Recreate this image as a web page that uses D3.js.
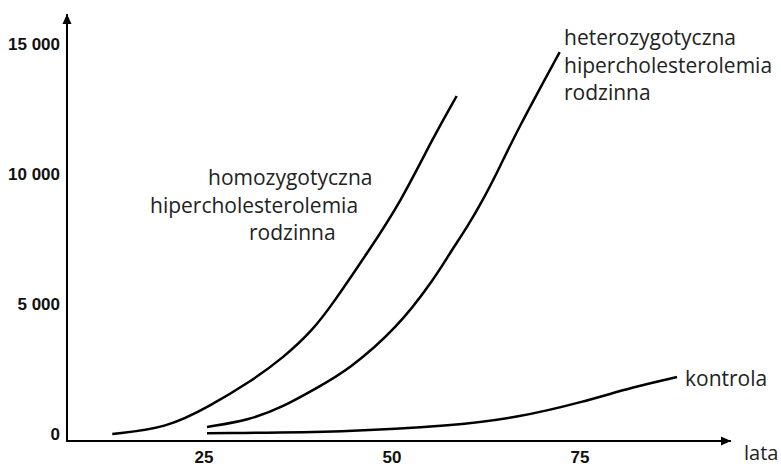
<!DOCTYPE html>
<meta charset="utf-8">
<style>
body { margin: 0; background: #fff; }
.curve { fill: none; stroke: #000; stroke-width: 2.5px; stroke-linecap: butt; }
.axis-line { stroke: #000; stroke-width: 2px; }
.tick { font: bold 17px "Liberation Sans", Arial, sans-serif; fill: #111; }
.label { font: 21px "Open Sans", sans-serif; fill: #222; }
</style>
<body>
<script src="https://d3js.org/d3.v7.min.js"></script>
<script>
// values: age (years) and level
var homoAge = [12.8, 20.1, 25.8, 31.1, 35.5, 39.5, 42.2, 46.7, 51.1, 55.5, 58.6];
var homoVal = [0, 230, 1080, 2000, 2920, 4000, 5040, 6960, 8890, 11420, 13000];
var heteroAge = [25.4, 31.1, 35.5, 40.0, 44.2, 50.7, 55.5, 57.7, 60.0, 62.1, 64.4, 66.6, 72.3];
var heteroVal = [270, 540, 1040, 1770, 2460, 4080, 5920, 6960, 7960, 9000, 10300, 11650, 14690];
var controlAge = [25.4, 44.2, 57.7, 66.6, 75.4, 82.1, 87.9];
var controlVal = [30, 80, 310, 620, 1230, 1810, 2190];

var yTicks = [0, 5000, 10000, 15000];
var yTickLabels = ["0", "5 000", "10 000", "15 000"];
var xTicks = [25, 50, 75];
var xLabel = "lata";

var W = 781, H = 467;
var axisX = 67, axisY = 441;

var x = d3.scaleLinear().domain([25, 75]).range([204, 580]);
var y = d3.scaleLinear().domain([0, 15000]).range([434, 44]);

var svg = d3.select("body").append("svg")
    .attr("width", W)
    .attr("height", H);

// arrow marker for the axes
svg.append("defs").append("marker")
    .attr("id", "arrow")
    .attr("viewBox", "0 0 10 10")
    .attr("refX", 10).attr("refY", 5)
    .attr("markerWidth", 10).attr("markerHeight", 10)
    .attr("markerUnits", "userSpaceOnUse")
    .attr("orient", "auto")
    .append("path")
    .attr("d", "M0,0.5L10,5L0,9.5Z")
    .attr("fill", "#000");

// axes
svg.append("line").attr("class", "axis-line")
    .attr("x1", axisX).attr("y1", axisY + 1)
    .attr("x2", axisX).attr("y2", 14)
    .attr("marker-end", "url(#arrow)");
svg.append("line").attr("class", "axis-line")
    .attr("x1", axisX - 1).attr("y1", axisY)
    .attr("x2", 731).attr("y2", axisY)
    .attr("marker-end", "url(#arrow)");

// tick labels
svg.selectAll(".ytick")
    .data(yTicks)
    .enter().append("text")
    .attr("class", "tick")
    .attr("x", 60)
    .attr("y", function(d) { return y(d) + 6; })
    .attr("text-anchor", "end")
    .text(function(d, i) { return yTickLabels[i]; });

svg.selectAll(".xtick")
    .data(xTicks)
    .enter().append("text")
    .attr("class", "tick")
    .attr("x", function(d) { return x(d); })
    .attr("y", 463)
    .attr("text-anchor", "middle")
    .text(function(d) { return d; });

svg.append("text").attr("class", "label")
    .attr("x", 744).attr("y", 460)
    .style("font-size", "20px")
    .text(xLabel);

// curves
var line = d3.line()
    .x(function(d) { return x(d[0]); })
    .y(function(d) { return y(d[1]); })
    .curve(d3.curveBasis);

function pairs(a, v) { return a.map(function(t, i) { return [t, v[i]]; }); }

[pairs(homoAge, homoVal), pairs(heteroAge, heteroVal), pairs(controlAge, controlVal)]
    .forEach(function(s) {
        svg.append("path").attr("class", "curve").attr("d", line(s));
    });

// series labels
function block(lines, xs, y0) {
    lines.forEach(function(t, i) {
        svg.append("text").attr("class", "label")
            .attr("x", xs[i]).attr("y", y0 + i * 27.5)
            .text(t);
    });
}
block(["homozygotyczna", "hipercholesterolemia", "rodzinna"], [208, 150, 249], 185);
block(["heterozygotyczna", "hipercholesterolemia", "rodzinna"], [564, 564, 564], 45);
block(["kontrola"], [685], 386);
</script>
</body>
